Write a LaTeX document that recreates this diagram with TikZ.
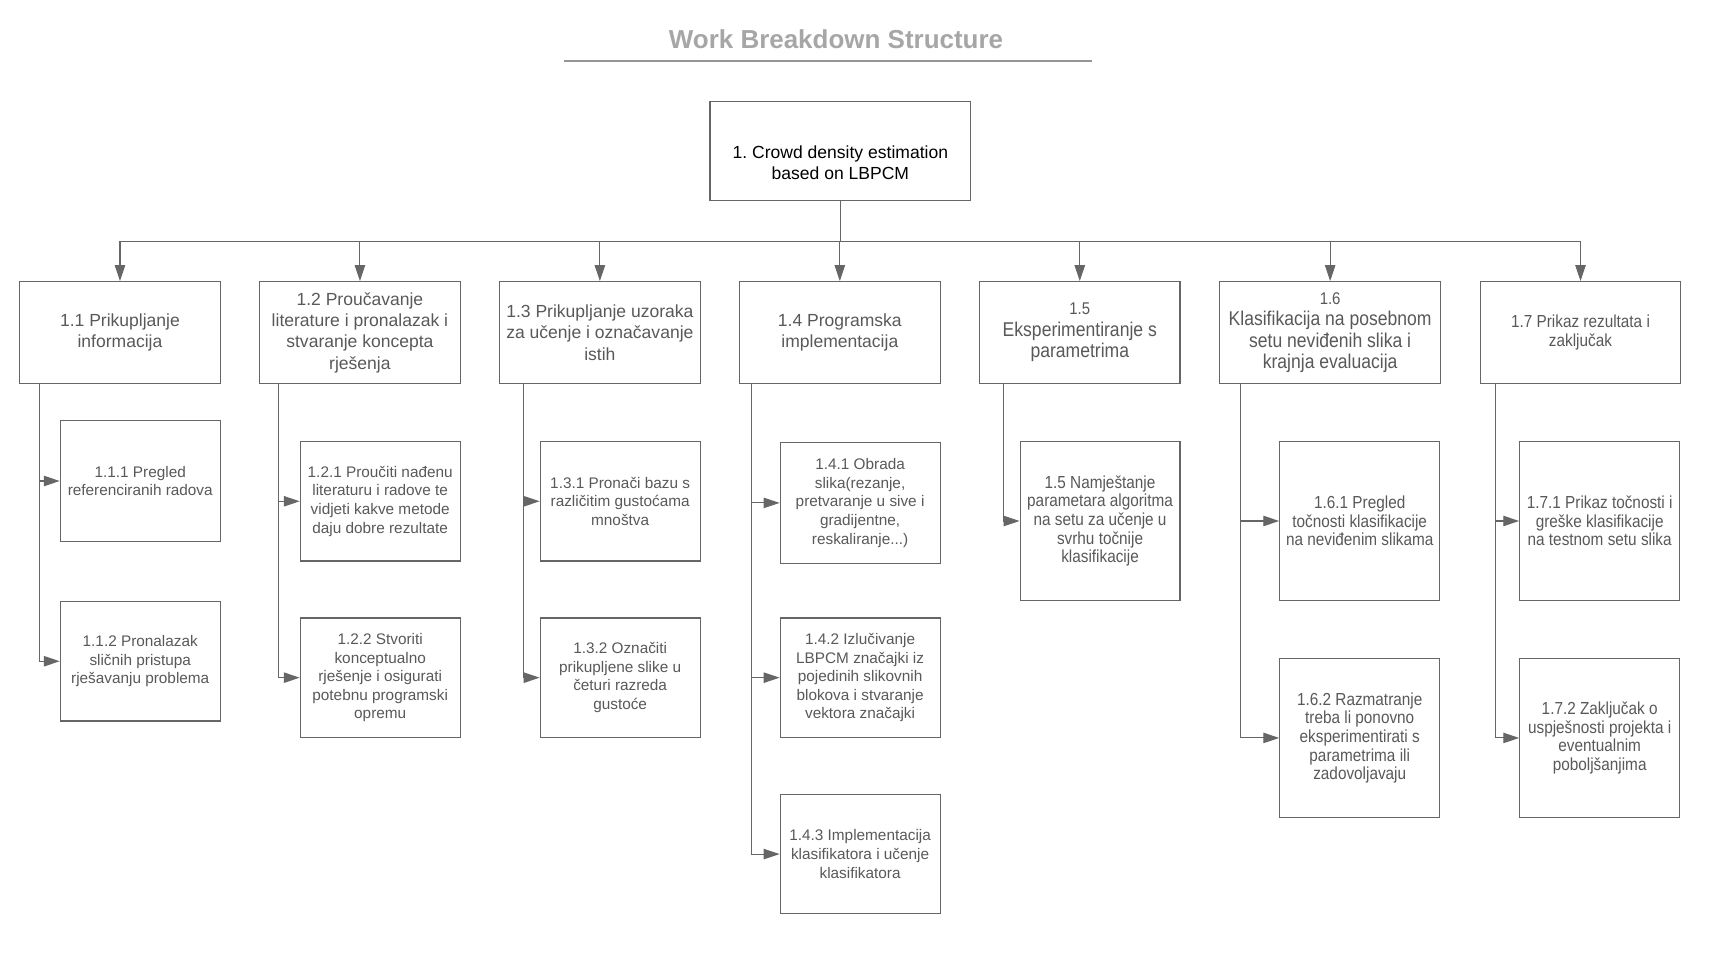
\documentclass[tikz,border=0pt]{standalone}
\usepackage{fontspec}
\setmainfont{Liberation Sans}
\newfontfamily\tallfont[FakeStretch=0.88]{Liberation Sans}
\usetikzlibrary{arrows.meta}
\definecolor{txt}{HTML}{595959}
\definecolor{ln}{HTML}{666666}
\definecolor{ttl}{HTML}{A6A6A6}
\frenchspacing
\begin{document}
\begin{tikzpicture}[x=1pt,y=-1pt,
 box/.style={draw=ln, line width=1pt, inner sep=0pt, align=center, text=txt},
 lone/.style={box, minimum width=183pt, minimum height=93pt, font=\fontsize{16}{19.5}\selectfont},
 lonet/.style={lone, font=\tallfont\fontsize{18.2}{19.5}\selectfont},
 ltwo/.style={box, minimum width=146pt, font=\fontsize{14}{17}\selectfont},
 ltwot/.style={ltwo, font=\tallfont\fontsize{15.9}{17}\selectfont},
 conn/.style={draw=ln, line width=1pt},
 arr/.style={conn, -{Triangle[length=14.5pt,width=9.5pt]}},
]
\fill[white] (0,0) rectangle (1568,878);
\path[use as bounding box] (0,0) rectangle (1568,878);

% title
\node[font=\fontsize{23.7}{28}\selectfont\bfseries, text=ttl] (title) at (763,36) {Work Breakdown Structure};
\coordinate (ulL) at (515,56);
\coordinate (ulR) at (997,56);
\draw[draw=ttl!90!black, line width=1.6pt] (ulL) -- (ulR);

% root
\node[box, text=black, minimum width=238pt, minimum height=90pt, font=\fontsize{16}{19.5}\selectfont] (root) at (767,138)
  {\raisebox{-16.5pt}[0pt][0pt]{\begin{tabular}{@{}c@{}}1. Crowd density estimation\\based on LBPCM\end{tabular}}};

% level 1
\node[lone] (n11) at (109.5,303.5) {1.1 Prikupljanje\\informacija};
\node[lone] (n12) at (328.5,303.5) {1.2 Proučavanje\\literature i pronalazak i\\stvaranje koncepta\\rješenja};
\node[lone] (n13) at (547.5,303.5) {1.3 Prikupljanje uzoraka\\za učenje i označavanje\\istih};
\node[lone] (n14) at (766.5,303.5) {1.4 Programska\\implementacija};
\node[lonet] (n15) at (985.5,303.5) {{\fontsize{15.5}{19.5}\selectfont 1.5}\\Eksperimentiranje s\\parametrima};
\node[lonet, minimum width=202pt] (n16) at (1214,303.5) {{\fontsize{15.5}{19.5}\selectfont 1.6}\\Klasifikacija na posebnom\\setu neviđenih slika i\\krajnja evaluacija};
\node[lone, font=\tallfont\fontsize{15.9}{17}\selectfont] (n17) at (1442.5,303.5) {1.7 Prikaz rezultata i\\zaključak};

% bus
\coordinate (busL) at (109.5,220);
\coordinate (busR) at (1442.5,220);
\draw[conn] (root.south) -- (root.south |- busL);
\draw[conn] (busL) -- (busR);
\foreach \n in {n11,n12,n13,n14,n15,n16,n17}
  \draw[arr] (\n.north |- busL) -- (\n.north);

% level 2
\node[ltwo, minimum height=110pt] (n111) at (128,439) {1.1.1 Pregled\\referenciranih radova};
\node[ltwo, minimum height=109pt] (n112) at (128,603.5) {1.1.2 Pronalazak\\sličnih pristupa\\rješavanju problema};
\node[ltwo, minimum height=109pt] (n121) at (347,457.5) {1.2.1 Proučiti nađenu\\literaturu i radove te\\vidjeti kakve metode\\daju dobre rezultate};
\node[ltwo, minimum height=109pt] (n122) at (347,618.5) {1.2.2 Stvoriti\\konceptualno\\rješenje i osigurati\\potebnu programski\\opremu};
\node[ltwo, minimum height=109pt] (n131) at (566,457.5) {1.3.1 Pronači bazu s\\različitim gustoćama\\mnoštva};
\node[ltwo, minimum height=109pt] (n132) at (566,618.5) {1.3.2 Označiti\\prikupljene slike u\\četuri razreda\\gustoće};
\node[ltwo, minimum height=110pt] (n141) at (785,459) {1.4.1 Obrada\\slika(rezanje,\\pretvaranje u sive i\\gradijentne,\\reskaliranje...)};
\node[ltwo, minimum height=109pt] (n142) at (785,618.5) {1.4.2 Izlučivanje\\LBPCM značajki iz\\pojedinih slikovnih\\blokova i stvaranje\\vektora značajki};
\node[ltwo, minimum height=109pt] (n143) at (785,779.5) {1.4.3 Implementacija\\klasifikatora i učenje\\klasifikatora};
\node[ltwot, minimum height=145pt] (n151) at (1004,475.5) {1.5 Namještanje\\parametara algoritma\\na setu za učenje u\\svrhu točnije\\klasifikacije};
\node[ltwot, minimum height=145pt] (n161) at (1241,475.5) {1.6.1 Pregled\\točnosti klasifikacije\\na neviđenim slikama};
\node[ltwot, minimum height=145pt] (n162) at (1241,673.5) {1.6.2 Razmatranje\\treba li ponovno\\eksperimentirati s\\parametrima ili\\zadovoljavaju};
\node[ltwot, minimum height=145pt] (n171) at (1460,475.5) {1.7.1 Prikaz točnosti i\\greške klasifikacije\\na testnom setu slika};
\node[ltwot, minimum height=145pt] (n172) at (1460,673.5) {1.7.2 Zaključak o\\uspješnosti projekta i\\eventualnim\\poboljšanjima};

% sub connectors
\coordinate (s11) at (36,350);
\coordinate (s12) at (254,350);
\coordinate (s13) at (478,350);
\coordinate (s14) at (686,350);
\coordinate (s15) at (916,350);
\coordinate (s16) at (1132,350);
\coordinate (s17) at (1365,350);
\draw[arr] (s11) |- (n111);
\draw[arr] (s11) |- (n112);
\draw[arr] (s12) |- (n121);
\draw[arr] (s12) |- (n122);
\draw[arr] (s13) |- (n131);
\draw[arr] (s13) |- (n132);
\draw[arr] (s14) |- (n141);
\draw[arr] (s14) |- (n142);
\draw[arr] (s14) |- (n143);
\draw[arr] (s15) |- (n151);
\draw[arr] (s16) |- (n161);
\draw[arr] (s16) |- (n162);
\draw[arr] (s17) |- (n171);
\draw[arr] (s17) |- (n172);
\end{tikzpicture}
\end{document}
